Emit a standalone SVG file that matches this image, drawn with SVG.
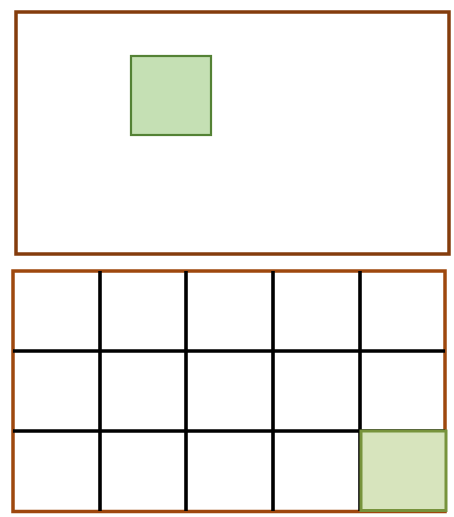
<svg xmlns="http://www.w3.org/2000/svg" width="454" height="517" viewBox="0 0 454 517">
<style>
.frame1{fill:#fff;stroke:#843C0C;stroke-width:3.5}
.frame2{fill:#fff;stroke:#9E480E;stroke-width:3.5}
.grid{stroke:#000;stroke-width:3.6;fill:none}
.g1{fill:#C5E0B4;stroke:#548235;stroke-width:2.2}
.g2{fill:#D7E4BD;stroke:#77933C;stroke-width:3}
</style>
<rect width="454" height="517" fill="#fff"/>
<g id="top-frame"><rect class="frame1" x="16" y="12" width="433" height="242"/></g>
<g id="top-square"><rect class="g1" x="131" y="56" width="80" height="79"/></g>
<g id="bottom-frame"><rect class="frame2" x="13" y="271" width="432" height="240.5"/></g>
<g id="connectors">
<path class="grid" d="M100 271V511M186 271V511M273 271V511M360 271V511M13 351H445M13 431H445"/>
</g>
<g id="bottom-square"><rect class="g2" x="361" y="431" width="85" height="79.5"/></g>
</svg>
